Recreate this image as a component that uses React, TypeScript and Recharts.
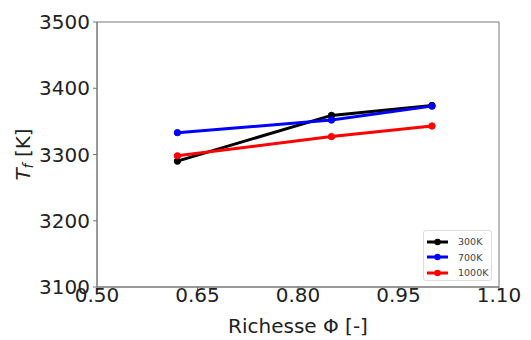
import { LineChart, Line, XAxis, YAxis, ReferenceArea } from 'recharts';

const phi = [0.62, 0.85, 1.0];
const t300 = [3290, 3359, 3374];
const t700 = [3333, 3352, 3373];
const t1000 = [3298, 3327, 3343];

const xTicks = [0.5, 0.65, 0.8, 0.95, 1.1];
const yTicks = [3100, 3200, 3300, 3400, 3500];

const SERIES = [
  { key: 't300', name: '300K', color: '#000000', values: t300 },
  { key: 't700', name: '700K', color: '#0000ff', values: t700 },
  { key: 't1000', name: '1000K', color: '#ff0000', values: t1000 },
];

const data = phi.map((p, i) => {
  const row: Record<string, number> = { phi: p };
  SERIES.forEach((s) => {
    row[s.key] = s.values[i];
  });
  return row;
});

const AXIS = '#777777';
const FONT = 'DejaVu Sans, sans-serif';

const XLabel = (props: any) => {
  const { x, y, width, height } = props.viewBox;
  return (
    <text
      x={x + width / 2}
      y={y + height - 7}
      textAnchor="middle"
      fontSize={20}
      fontFamily={FONT}
      fill="#222">
      Richesse Φ [-]
    </text>
  );
};

const YLabel = (props: any) => {
  const { y, height } = props.viewBox;
  const cx = 23;
  const cy = y + height / 2;
  return (
    <text
      x={cx}
      y={cy}
      transform={`rotate(-90 ${cx} ${cy})`}
      textAnchor="middle"
      dominantBaseline="central"
      fontSize={20}
      fontFamily={FONT}
      fill="#222">
      <tspan fontStyle="italic">T</tspan>
      <tspan fontStyle="italic" fontSize={14} dy={5}>
        f
      </tspan>
      <tspan dy={-5}> [K]</tspan>
    </text>
  );
};

export default function App() {
  return (
    <div style={{ position: 'absolute', left: 0, top: 0, width: 531, height: 340, background: '#fff' }}>
      <LineChart
        width={531}
        height={340}
        data={data}
        margin={{ top: 22, right: 32, bottom: 0, left: 0 }}>
        <XAxis
          dataKey="phi"
          type="number"
          domain={[0.5, 1.1]}
          ticks={xTicks}
          tickFormatter={(v: number) => v.toFixed(2)}
          height={53}
          tickSize={4}
          tickMargin={-3}
          stroke={AXIS}
          tick={{ fontSize: 20, fontFamily: FONT, fill: '#222' }}
          allowDataOverflow
          label={<XLabel />}
        />
        <YAxis
          type="number"
          domain={[3100, 3500]}
          ticks={yTicks}
          width={97}
          tickSize={4}
          tickMargin={3}
          stroke={AXIS}
          tick={{ fontSize: 20, fontFamily: FONT, fill: '#222' }}
          allowDataOverflow
          label={<YLabel />}
        />
        <ReferenceArea
          x1={0.5}
          x2={1.1}
          y1={3100}
          y2={3500}
          fill="none"
          stroke={AXIS}
          strokeWidth={1}
          ifOverflow="extendDomain"
        />
        {SERIES.map((s) => (
          <Line
            key={s.key}
            dataKey={s.key}
            name={s.name}
            stroke={s.color}
            strokeWidth={3}
            dot={{ r: 3.2, fill: s.color, stroke: s.color, strokeWidth: 1 }}
            isAnimationActive={false}
          />
        ))}
      </LineChart>
      <div
        style={{
          position: 'absolute',
          left: 423,
          top: 230,
          width: 69,
          height: 51,
          border: '1px solid #ddd',
          borderRadius: 3,
          background: '#fff',
          boxSizing: 'border-box',
          paddingTop: 3,
        }}>
        {SERIES.map((s) => (
          <div key={s.key} style={{ display: 'flex', alignItems: 'center', height: 15.5 }}>
            <svg width={32} height={10} style={{ marginLeft: 2 }}>
              <line x1={1} y1={5} x2={22} y2={5} stroke={s.color} strokeWidth={3} />
              <circle cx={11.5} cy={5} r={3.2} fill={s.color} />
            </svg>
            <span style={{ fontSize: 9.5, fontFamily: FONT, color: '#444' }}>{s.name}</span>
          </div>
        ))}
      </div>
    </div>
  );
}
